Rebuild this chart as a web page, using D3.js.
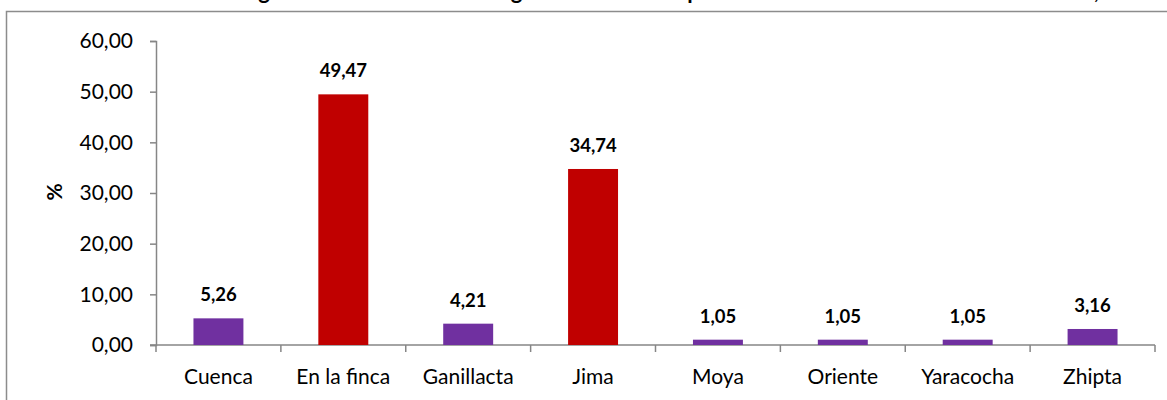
<!DOCTYPE html>
<html><head><meta charset="utf-8">
<script src="https://cdn.jsdelivr.net/npm/d3@7"></script>
<style>
html,body{margin:0;padding:0;background:#fff;}
svg{display:block;font-family:Lato,"Open Sans",sans-serif;}
</style></head>
<body>
<svg id="chart" width="1167" height="400"></svg>
<script>
const categories = ["Cuenca","En la finca","Ganillacta","Jima","Moya","Oriente","Yaracocha","Zhipta"];
const values = [5.26, 49.47, 4.21, 34.74, 1.05, 1.05, 1.05, 3.16];
const highlighted = ["En la finca","Jima"];
const yTicks = [0,10,20,30,40,50,60];
const title = "Distribución de hogares de acuerdo con el lugar de venta de la producción de leche en la zona del cantón, 2014";
const yLabel = "%";

const svg = d3.select("#chart");
const x0 = 156, x1 = 1155, yTop = 41, yBot = 345;

svg.append("rect").attr("x",6.5).attr("y",11.5).attr("width",1200).attr("height",500)
  .attr("fill","#fff").attr("stroke","#8c8c8c").attr("stroke-width",1.5);

svg.append("text").attr("x",617).attr("y",-1).attr("text-anchor","middle")
  .attr("font-size",22).attr("font-weight","bold").attr("fill","#000").text(title);

const x = d3.scaleBand().domain(categories).range([x0,x1]).padding(0);
const y = d3.scaleLinear().domain([0,60]).range([yBot,yTop]);
const fmt = v => d3.format(".2f")(v).replace(".",",");

// y axis
const ya = svg.append("g").attr("transform",`translate(${x0},0)`)
  .call(d3.axisLeft(y).tickValues(yTicks).tickFormat(fmt).tickSize(6).tickPadding(17));
ya.select(".domain").attr("stroke","#868686").attr("stroke-width",1.5);
ya.selectAll(".tick line").attr("stroke","#868686").attr("stroke-width",1.5);
ya.selectAll(".tick text").attr("font-size",21).attr("fill","#000").attr("font-family","Lato");

// x axis with ticks at category boundaries
const xa = svg.append("g").attr("transform",`translate(0,${yBot})`);
xa.append("line").attr("x1",x0-6).attr("x2",x1).attr("y1",0).attr("y2",0)
  .attr("stroke","#868686").attr("stroke-width",1.5);
const bounds = categories.map(c=>x(c)).concat([x1]);
xa.selectAll("line.tk").data(bounds).join("line").attr("class","tk")
  .attr("x1",d=>d).attr("x2",d=>d).attr("y1",0).attr("y2",7)
  .attr("stroke","#868686").attr("stroke-width",1.5);
xa.selectAll("text").data(categories).join("text")
  .attr("x",d=>x(d)+x.bandwidth()/2).attr("y",39).attr("text-anchor","middle")
  .attr("font-size",21).attr("fill","#000").text(d=>d);

// bars
const bw = x.bandwidth()*0.4;
svg.selectAll("rect.bar").data(categories).join("rect").attr("class","bar")
  .attr("x",d=>x(d)+x.bandwidth()/2-bw/2).attr("width",bw)
  .attr("y",(d,i)=>y(values[i])).attr("height",(d,i)=>yBot-y(values[i]))
  .attr("fill",d=>highlighted.includes(d)?"#C00000":"#7030A0");

svg.selectAll("text.lbl").data(categories).join("text").attr("class","lbl")
  .attr("x",d=>x(d)+x.bandwidth()/2).attr("y",(d,i)=>y(values[i])-17)
  .attr("text-anchor","middle").attr("font-size",18.5).attr("font-weight","bold")
  .attr("fill","#000").text((d,i)=>fmt(values[i]));

svg.append("text").attr("transform","translate(62,192) rotate(-90)")
  .attr("text-anchor","middle").attr("font-size",21).attr("font-weight","bold").text(yLabel);
</script>
</body></html>
